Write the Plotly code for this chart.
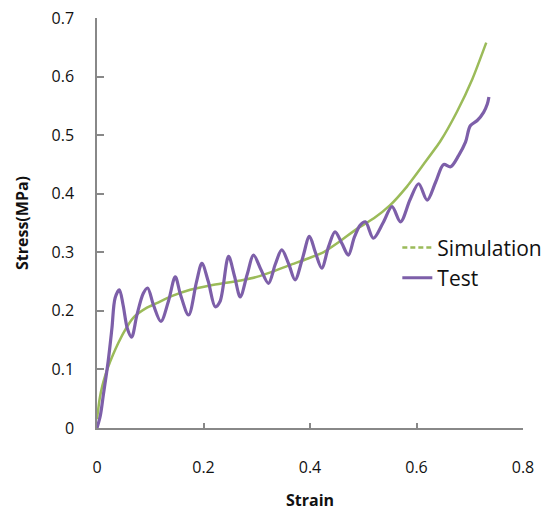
import plotly.graph_objects as go

# Simulation curve (strain, stress MPa)
sim_strain = [0.0, 0.005, 0.01, 0.015, 0.02, 0.03, 0.04, 0.05, 0.068, 0.093, 0.112, 0.14, 0.175,
              0.21, 0.237, 0.27, 0.30, 0.33, 0.362, 0.395, 0.425, 0.455, 0.488, 0.52, 0.55,
              0.58, 0.613, 0.645, 0.676, 0.705, 0.731]
sim_stress = [0.015, 0.05, 0.072, 0.088, 0.102, 0.125, 0.145, 0.163, 0.188, 0.205, 0.213, 0.225, 0.236,
              0.243, 0.247, 0.252, 0.258, 0.267, 0.278, 0.289, 0.30, 0.318, 0.34, 0.358, 0.38,
              0.41, 0.45, 0.49, 0.54, 0.596, 0.658]

# Test curve (strain, stress MPa)
test_strain = [0.0, 0.006, 0.012, 0.021, 0.028, 0.034, 0.042, 0.049, 0.057, 0.065, 0.075, 0.087, 0.095,
               0.106, 0.12, 0.134, 0.147, 0.157, 0.172, 0.187, 0.197, 0.209, 0.222, 0.231, 0.247,
               0.258, 0.269, 0.282, 0.294, 0.308, 0.322, 0.335, 0.347, 0.36, 0.372, 0.386, 0.399,
               0.41, 0.422, 0.435, 0.447, 0.46, 0.472, 0.483, 0.494, 0.504, 0.519, 0.537, 0.554,
               0.57, 0.588, 0.604, 0.62, 0.636, 0.651, 0.664, 0.679, 0.692, 0.701, 0.714, 0.726,
               0.733, 0.736]
test_stress = [0.0, 0.02, 0.057, 0.114, 0.17, 0.222, 0.236, 0.21, 0.17, 0.155, 0.193, 0.23, 0.239,
               0.21, 0.182, 0.216, 0.258, 0.227, 0.193, 0.25, 0.281, 0.25, 0.207, 0.216, 0.293,
               0.26, 0.224, 0.262, 0.295, 0.27, 0.247, 0.28, 0.304, 0.28, 0.253, 0.29, 0.327,
               0.3, 0.273, 0.31, 0.335, 0.315, 0.295, 0.325, 0.346, 0.352, 0.324, 0.35, 0.378,
               0.352, 0.39, 0.417, 0.389, 0.42, 0.45, 0.446, 0.465, 0.488, 0.516, 0.525, 0.539,
               0.553, 0.565]

x_ticks = [0, 0.2, 0.4, 0.6, 0.8]
x_tick_labels = ["0", "0.2", "0.4", "0.6", "0.8"]
y_ticks = [0, 0.1, 0.2, 0.3, 0.4, 0.5, 0.6, 0.7]
y_tick_labels = ["0", "0.1", "0.2", "0.3", "0.4", "0.5", "0.6", "0.7"]

GREEN = "#9BBB59"
PURPLE = "#7D5FA9"
FONT = "Open Sans"

fig = go.Figure()
fig.add_trace(go.Scatter(x=sim_strain, y=sim_stress, mode="lines", name="Simulation",
                         line=dict(color=GREEN, width=2.5, shape="spline", smoothing=0.6),
                         showlegend=False))
fig.add_trace(go.Scatter(x=test_strain, y=test_stress, mode="lines", name="Test",
                         line=dict(color=PURPLE, width=3.2, shape="spline", smoothing=0.9),
                         showlegend=False))
# legend-only entries
fig.add_trace(go.Scatter(x=[None], y=[None], mode="lines", name="Simulation",
                         line=dict(color=GREEN, width=2.5, dash="5px,3px")))
fig.add_trace(go.Scatter(x=[None], y=[None], mode="lines", name="Test",
                         line=dict(color=PURPLE, width=3)))

fig.update_layout(
    width=550, height=510,
    margin=dict(l=89, r=35, t=10, b=90),
    paper_bgcolor="white", plot_bgcolor="white",
    font=dict(family=FONT, size=16, color="#111111"),
    showlegend=True,
    legend=dict(x=0.705, y=0.403, xanchor="left", yanchor="middle",
                bgcolor="rgba(0,0,0,0)", font=dict(size=21, family=FONT),
                itemwidth=30, tracegroupgap=0),
    xaxis=dict(range=[0, 0.8], tickvals=x_ticks, ticktext=x_tick_labels, automargin=False,
               showgrid=False, zeroline=False, showline=True, linecolor="#888888", linewidth=1.5,
               ticks="inside", ticklen=5, tickcolor="#888888", tickwidth=1.5,
               ticklabelstandoff=24, ticklabeloverflow="allow",
               title=dict(text="<b>Strain</b>", font=dict(size=16), standoff=18)),
    yaxis=dict(range=[0, 0.7], tickvals=y_ticks, ticktext=y_tick_labels, automargin=False,
               showgrid=False, zeroline=False, showline=True, linecolor="#888888", linewidth=1.5,
               ticks="inside", ticklen=7, tickcolor="#888888", tickwidth=1.5,
               ticklabelstandoff=18, ticklabeloverflow="allow",
               title=dict(text="<b>Stress(MPa)</b>", font=dict(size=16), standoff=19)),
)

fig.write_html("out.html")
